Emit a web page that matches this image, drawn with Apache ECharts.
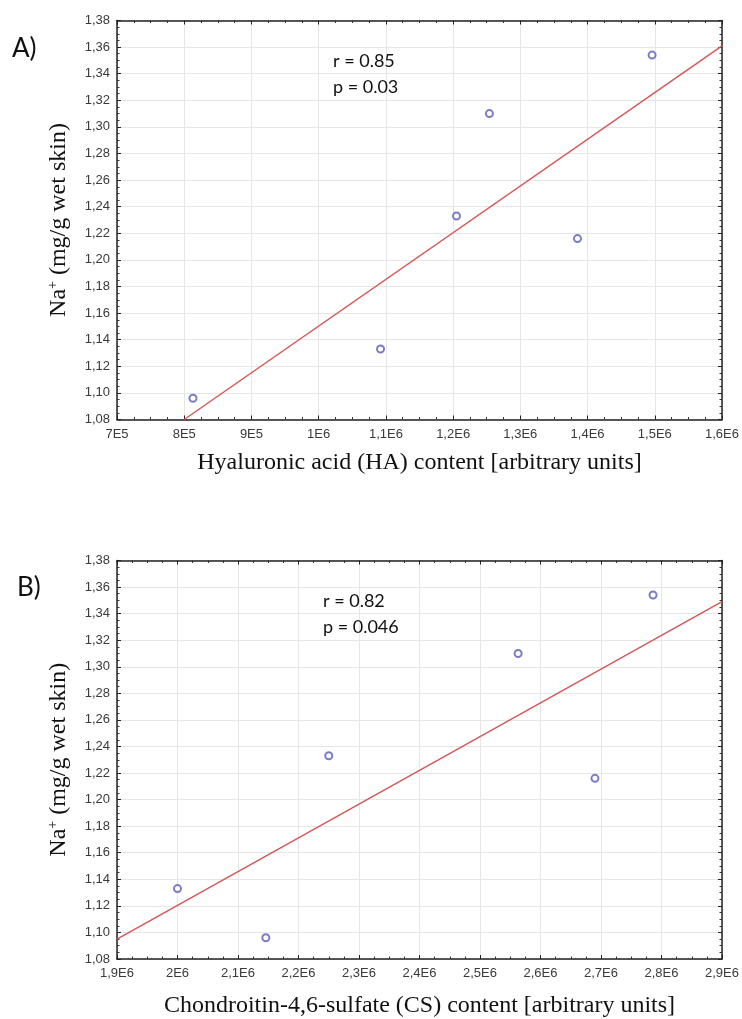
<!DOCTYPE html>
<html>
<head>
<meta charset="utf-8">
<script src="https://cdn.jsdelivr.net/npm/echarts@6/dist/echarts.min.js"></script>
<style>
html,body{margin:0;padding:0;background:#fff;}
#c{width:742px;height:1019px;}
</style>
</head>
<body>
<div id="c"></div>
<script>
// ---- Data ----
// Panel A: Hyaluronic acid content vs Na+
const haX = [813000, 1092000, 1205000, 1254000, 1385000, 1496000];
const haY = [1.096, 1.133, 1.233, 1.310, 1.216, 1.354];
const haFitX = [800000, 1600000];
const haFitY = [1.080, 1.361];
// Panel B: Chondroitin-4,6-sulfate content vs Na+
const csX = [2000000, 2146000, 2250000, 2563000, 2690000, 2786000];
const csY = [1.133, 1.096, 1.233, 1.310, 1.216, 1.354];
const csFitX = [1900000, 2900000];
const csFitY = [1.095, 1.349];
// Tick labels
const yTickLabels = ['1,08','1,10','1,12','1,14','1,16','1,18','1,20','1,22','1,24','1,26','1,28','1,30','1,32','1,34','1,36','1,38'];
const xTickLabelsA = ['7E5','8E5','9E5','1E6','1,1E6','1,2E6','1,3E6','1,4E6','1,5E6','1,6E6'];
const xTickLabelsB = ['1,9E6','2E6','2,1E6','2,2E6','2,3E6','2,4E6','2,5E6','2,6E6','2,7E6','2,8E6','2,9E6'];
// Texts
const titleXA = 'Hyaluronic acid (HA) content [arbitrary units]';
const titleXB = 'Chondroitin-4,6-sulfate (CS) content [arbitrary units]';
const statsA = ['r = 0.85', 'p = 0.03'];
const statsB = ['r = 0.82', 'p = 0.046'];

const Y_MIN = 1.08, Y_MAX = 1.38, Y_INT = 0.02;
const A_MIN = 700000, A_MAX = 1600000, B_MIN = 1900000, B_MAX = 2900000, X_INT = 100000;

function zip(a, b) { return a.map((v, i) => [v, b[i]]); }
function labelFrom(arr, min, int) { return v => { const i = Math.round((v - min) / int); return arr[i] !== undefined ? arr[i] : ''; }; }

const axisLine = { show: true, onZero: false, lineStyle: { color: '#222', width: 1.5 } };
const tickStyle = { show: true, inside: true, length: 4, lineStyle: { color: '#222', width: 1 } };
const minorStyle = { show: true, splitNumber: 4, length: 2.5, lineStyle: { color: '#333', width: 1 } };
const labelStyle = { color: '#3a3a3a', fontSize: 13, fontFamily: 'Liberation Sans, Arial, sans-serif' };
const splitStyle = { show: true, lineStyle: { color: '#e6e6e6', width: 1 } };
const serif = 'Liberation Serif, Times New Roman, serif';

function bottomX(gi, min, max, labels, name, gap) {
  return {
    type: 'value', gridIndex: gi, position: 'bottom', min, max, interval: X_INT,
    axisLine, axisTick: tickStyle, minorTick: minorStyle,
    axisLabel: Object.assign({ margin: 8, formatter: labelFrom(labels, min, X_INT), showMinLabel: true, showMaxLabel: true }, labelStyle),
    splitLine: splitStyle,
    name, nameLocation: 'middle', nameGap: gap,
    nameTextStyle: { fontFamily: serif, fontSize: 24, color: '#111' }
  };
}
function topX(gi, min, max) {
  return {
    type: 'value', gridIndex: gi, position: 'top', min, max, interval: X_INT,
    axisLine, axisTick: tickStyle, minorTick: minorStyle,
    axisLabel: { show: false }, splitLine: { show: false }
  };
}
function leftY(gi) {
  return {
    type: 'value', gridIndex: gi, position: 'left', min: Y_MIN, max: Y_MAX, interval: Y_INT,
    axisLine, axisTick: tickStyle, minorTick: minorStyle,
    axisLabel: Object.assign({ margin: 7, formatter: labelFrom(yTickLabels, Y_MIN, Y_INT), showMinLabel: true, showMaxLabel: true }, labelStyle),
    splitLine: splitStyle,
    name: '{a|Na}{s|+}{a| (mg/g wet skin)}', nameLocation: 'middle', nameGap: 45, nameRotate: 90,
    nameTextStyle: {
      color: '#111',
      rich: {
        a: { fontFamily: serif, fontSize: 24, color: '#111' },
        s: { fontFamily: serif, fontSize: 14, color: '#111', verticalAlign: 'top', padding: [0, 0, 12, 0] }
      }
    }
  };
}
function rightY(gi) {
  return {
    type: 'value', gridIndex: gi, position: 'right', min: Y_MIN, max: Y_MAX, interval: Y_INT,
    axisLine, axisTick: tickStyle, minorTick: minorStyle,
    axisLabel: { show: false }, splitLine: { show: false }
  };
}

const scatterStyle = { color: '#5b5bb8', borderColor: '#5b5bb8', borderWidth: 1.6 };
const fitStyle = { color: '#d65858', width: 1.5 };
const statFont = { fontFamily: 'Lato, Open Sans, sans-serif', fontSize: 18, fill: '#111' };
const panelFont = { fontFamily: 'Lato, Open Sans, sans-serif', fontSize: 26, fill: '#111' };

const option = {
  animation: false,
  backgroundColor: '#fff',
  grid: [
    { left: 117, right: 19, top: 20.5, height: 399 },
    { left: 117, right: 19, top: 560.5, height: 399 }
  ],
  xAxis: [
    bottomX(0, A_MIN, A_MAX, xTickLabelsA, titleXA, 31),
    topX(0, A_MIN, A_MAX),
    bottomX(1, B_MIN, B_MAX, xTickLabelsB, titleXB, 35),
    topX(1, B_MIN, B_MAX)
  ],
  yAxis: [leftY(0), rightY(0), leftY(1), rightY(1)],
  series: [
    { type: 'line', xAxisIndex: 0, yAxisIndex: 0, data: zip(haFitX, haFitY), showSymbol: false, symbol: 'none', lineStyle: fitStyle, clip: true, z: 2 },
    { type: 'scatter', xAxisIndex: 0, yAxisIndex: 0, data: zip(haX, haY), symbol: 'emptyCircle', symbolSize: 7, itemStyle: scatterStyle, z: 3 },
    { type: 'line', xAxisIndex: 2, yAxisIndex: 2, data: zip(csFitX, csFitY), showSymbol: false, symbol: 'none', lineStyle: fitStyle, clip: true, z: 2 },
    { type: 'scatter', xAxisIndex: 2, yAxisIndex: 2, data: zip(csX, csY), symbol: 'emptyCircle', symbolSize: 7, itemStyle: scatterStyle, z: 3 }
  ],
  graphic: [
    { type: 'text', left: 12, top: 36, z: 100, style: Object.assign({ text: 'A)' }, panelFont) },
    { type: 'text', left: 17, top: 575, z: 100, style: Object.assign({ text: 'B)' }, panelFont) },
    { type: 'text', left: 333, top: 52, z: 100, style: Object.assign({ text: statsA[0] }, statFont) },
    { type: 'text', left: 333, top: 78, z: 100, style: Object.assign({ text: statsA[1] }, statFont) },
    { type: 'text', left: 323, top: 592, z: 100, style: Object.assign({ text: statsB[0] }, statFont) },
    { type: 'text', left: 323, top: 618, z: 100, style: Object.assign({ text: statsB[1] }, statFont) }
  ]
};

const chart = echarts.init(document.getElementById('c'), null, { renderer: 'canvas' });
chart.setOption(option);
</script>
</body>
</html>
